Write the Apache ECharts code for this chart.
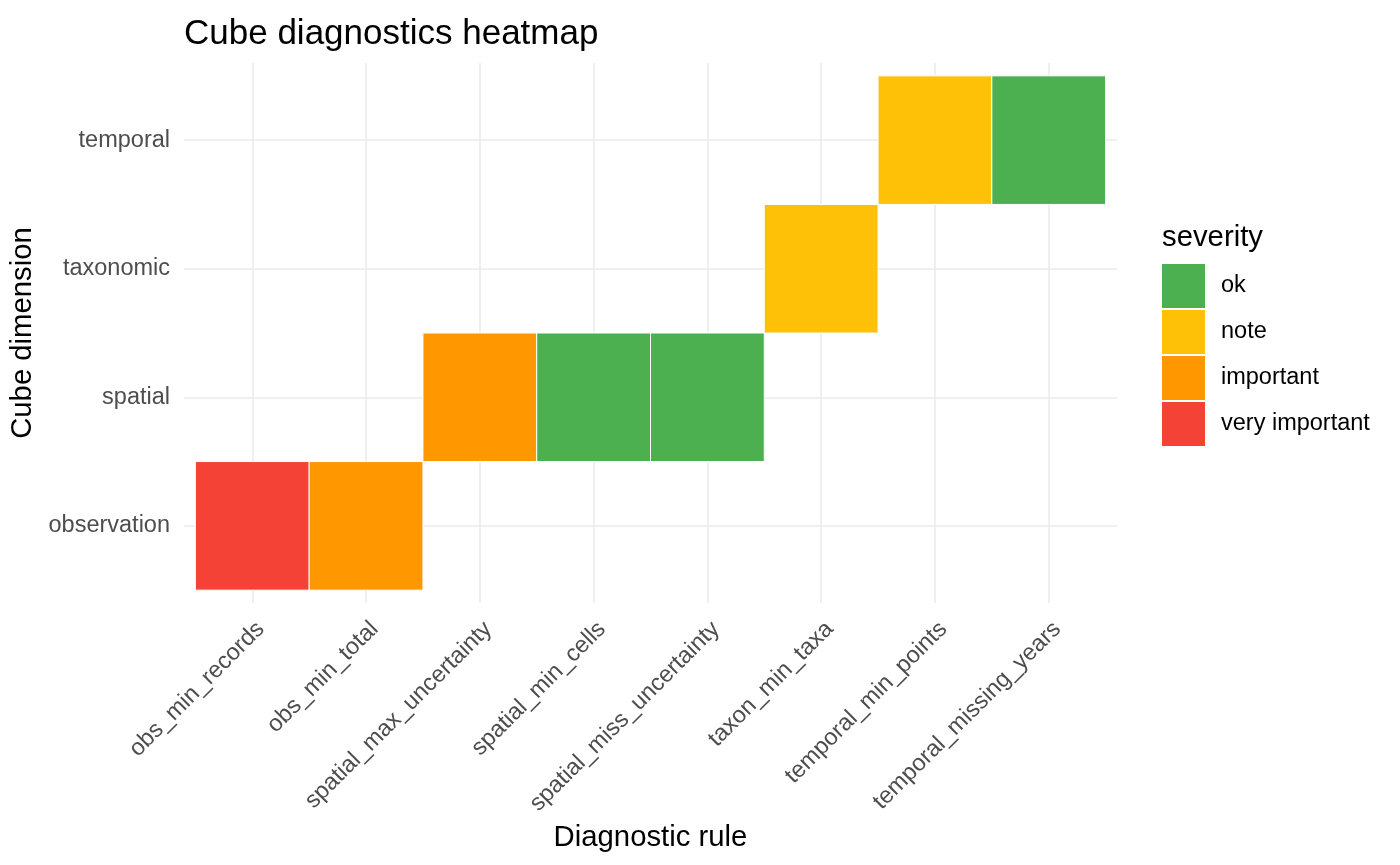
<!DOCTYPE html>
<html>
<head>
<meta charset="utf-8">
<script src="https://cdn.jsdelivr.net/npm/echarts@6/dist/echarts.min.js"></script>
<style>
  html, body { margin: 0; padding: 0; background: #ffffff; }
  #chart { width: 1400px; height: 865px; }
</style>
</head>
<body>
<div id="chart"></div>
<script>
// ---- data ----
const rules = [
  'obs_min_records', 'obs_min_total', 'spatial_max_uncertainty', 'spatial_min_cells',
  'spatial_miss_uncertainty', 'taxon_min_taxa', 'temporal_min_points', 'temporal_missing_years'
];
const dimensions = ['observation', 'spatial', 'taxonomic', 'temporal'];
const severities = ['ok', 'note', 'important', 'very important'];
const severityColors = ['#4CAF50', '#FFC107', '#FF9800', '#F44336'];
// dimension of each rule and its severity
const ruleDimension = ['observation', 'observation', 'spatial', 'spatial', 'spatial', 'taxonomic', 'temporal', 'temporal'];
const ruleSeverity = ['very important', 'important', 'important', 'ok', 'ok', 'note', 'note', 'ok'];

// ---- build series data (positions 1..n on the axes) ----
const cells = rules.map((r, i) => [
  i + 1,
  dimensions.indexOf(ruleDimension[i]) + 1,
  severities.indexOf(ruleSeverity[i])
]);

const FONT = 'Liberation Sans, Arial, Helvetica, sans-serif';
const chart = echarts.init(document.getElementById('chart'), null, { renderer: 'canvas' });

const option = {
  backgroundColor: '#ffffff',
  animation: false,
  textStyle: { fontFamily: FONT },
  title: [
    {
      text: 'Cube diagnostics heatmap',
      left: 184, top: 17,
      padding: 0,
      textStyle: { fontFamily: FONT, fontSize: 35, fontWeight: 'normal', color: '#000000', lineHeight: 35 }
    },
    {
      text: 'severity',
      left: 1162, top: 223,
      padding: 0,
      textStyle: { fontFamily: FONT, fontSize: 29.3, fontWeight: 'normal', color: '#000000', lineHeight: 29.3 }
    }
  ],
  grid: { left: 184, right: 283, top: 63, bottom: 262, containLabel: false, outerBoundsMode: 'none' },
  xAxis: {
    type: 'value',
    min: 0.4, max: 8.6,
    name: 'Diagnostic rule',
    nameLocation: 'middle',
    nameGap: 217,
    nameTextStyle: { fontFamily: FONT, fontSize: 29.3, color: '#000000', lineHeight: 29.3 },
    axisLine: { show: false },
    axisTick: { show: false, customValues: rules.map((r, i) => i + 1) },
    axisLabel: {
      customValues: rules.map((r, i) => i + 1),
      formatter: v => rules[Math.round(v) - 1] || '',
      rotate: 45,
      margin: 14,
      verticalAlign: 'top',
      lineHeight: 24,
      fontFamily: FONT, fontSize: 23.5, color: '#4D4D4D'
    },
    splitLine: { show: true, lineStyle: { color: '#EBEBEB', width: 1.6 } }
  },
  yAxis: {
    type: 'value',
    min: 0.4, max: 4.6,
    name: 'Cube dimension',
    nameLocation: 'middle',
    nameGap: 138,
    nameRotate: 90,
    nameTextStyle: { fontFamily: FONT, fontSize: 29.3, color: '#000000', lineHeight: 29.3 },
    axisLine: { show: false },
    axisTick: { show: false, customValues: dimensions.map((d, i) => i + 1) },
    axisLabel: {
      customValues: dimensions.map((d, i) => i + 1),
      formatter: v => dimensions[Math.round(v) - 1] || '',
      margin: 14,
      fontFamily: FONT, fontSize: 23.5, color: '#4D4D4D'
    },
    splitLine: { show: true, lineStyle: { color: '#EBEBEB', width: 1.6 } }
  },
  visualMap: {
    type: 'piecewise',
    dimension: 2,
    seriesIndex: 0,
    orient: 'vertical',
    align: 'left',
    left: 1162, top: 264,
    padding: 0,
    itemWidth: 43, itemHeight: 44, itemGap: 2,
    itemSymbol: 'rect',
    textGap: 16,
    selectedMode: false,
    hoverLink: false,
    inverse: true,
    pieces: severities.map((s, i) => ({ value: i, label: s, color: severityColors[i] })),
    textStyle: { fontFamily: FONT, fontSize: 23.5, color: '#000000' }
  },
  series: [{
    type: 'custom',
    coordinateSystem: 'cartesian2d',
    encode: { x: 0, y: 1 },
    data: cells,
    renderItem: function (params, api) {
      const x = api.value(0), y = api.value(1);
      const p0 = api.coord([x - 0.5, y + 0.5]);
      const p1 = api.coord([x + 0.5, y - 0.5]);
      return {
        type: 'rect',
        shape: { x: p0[0], y: p0[1], width: p1[0] - p0[0], height: p1[1] - p0[1] },
        style: { fill: api.visual('color'), stroke: '#ffffff', lineWidth: 1 }
      };
    }
  }]
};
chart.setOption(option);
</script>
</body>
</html>
